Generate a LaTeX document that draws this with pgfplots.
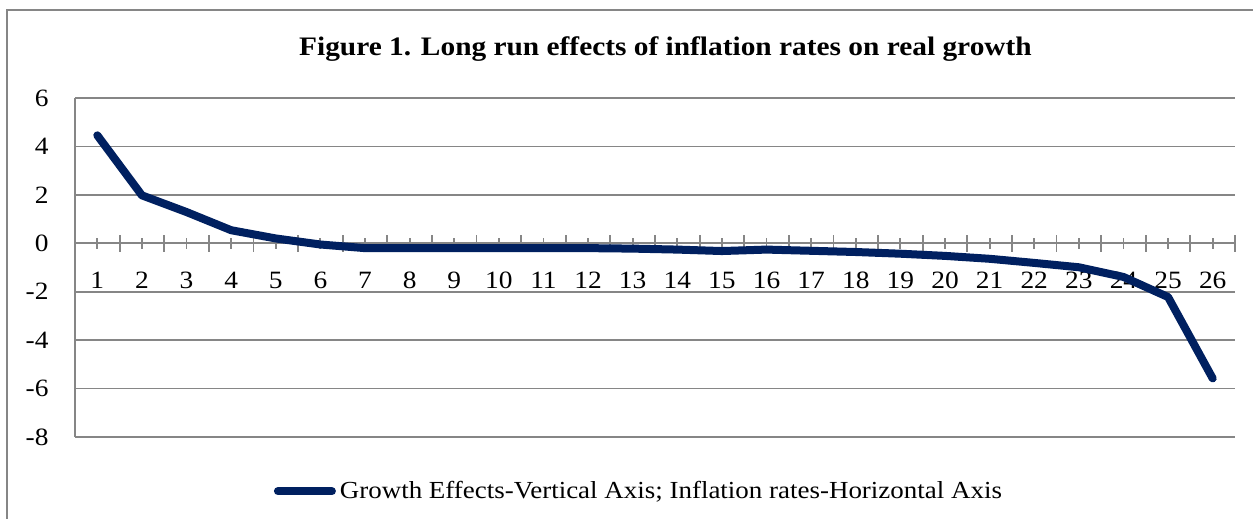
\documentclass[border=0pt]{standalone}
\usepackage{fontspec}
\setmainfont{Liberation Serif}[FakeStretch=1.1]
\usepackage{pgfplots}
\pgfplotsset{compat=1.18}
\definecolor{navy}{RGB}{0,32,96}
\definecolor{gridgray}{RGB}{134,134,134}
\begin{document}
\begin{tikzpicture}
\begin{axis}[
  name=ax, at={(0,0)}, anchor=south west,
  scale only axis, width=580bp, height=169.5bp,
  xmin=0.5, xmax=26.5, ymin=-8, ymax=6,
  axis x line=middle, axis y line=left,
  axis line style={-, draw=gridgray, line width=0.9pt},
  ytick={-8,-6,...,6},
  ymajorgrids, grid style={draw=gridgray, line width=0.9pt},
  ytick style={draw=none},
  xtick={1,...,26},
  extra x ticks={0.5,1.5,...,26.5},
  extra x tick labels={},
  extra x tick style={major tick length=8.5bp, tick align=center, grid=none},
  major tick length=5.5bp, tick align=center,
  xtick style={draw=gridgray, line width=0.9pt},
  tick label style={font=\fontsize{12.5}{14}\selectfont},
  /pgf/number format/assume math mode=true,
  xticklabel style={anchor=north, yshift=-8bp},
  yticklabel style={anchor=east, xshift=-7bp},
  title={\textbf{Figure 1. Long run effects of inflation rates on real growth}},
  title style={at={(0.509,1.15)}, anchor=center, yshift=-7bp, font=\fontsize{13.4}{15}\selectfont},
  legend style={at={(0.487,-0.16)}, anchor=center, draw=none, fill=none,
    font=\fontsize{12.3}{14}\selectfont, inner sep=0pt},
  legend cell align=left,
  legend image code/.code={\draw[#1, line cap=round] (0bp,0bp) -- (27bp,0bp);},
  clip=false,
]
\addplot[navy, line width=4bp, line join=round, line cap=round] coordinates {
(1,4.46) (2,1.98) (3,1.29) (4,0.54) (5,0.2) (6,-0.05) (7,-0.2) (8,-0.2) (9,-0.2)
(10,-0.2) (11,-0.2) (12,-0.2) (13,-0.22) (14,-0.26) (15,-0.32) (16,-0.26)
(17,-0.31) (18,-0.36) (19,-0.43) (20,-0.52) (21,-0.64) (22,-0.81) (23,-0.99)
(24,-1.39) (25,-2.22) (26,-5.58)};
\addlegendentry{Growth Effects-Vertical Axis; Inflation rates-Horizontal Axis}
\end{axis}
\path[use as bounding box] (ax.south west) ++(-37.5bp,-41bp) rectangle ++(626.5bp,259.5bp);
\draw[gridgray, line width=0.9pt] (ax.south west) ++(-34bp,-60bp) |- ++(640bp,273.5bp);
\end{tikzpicture}
\end{document}
